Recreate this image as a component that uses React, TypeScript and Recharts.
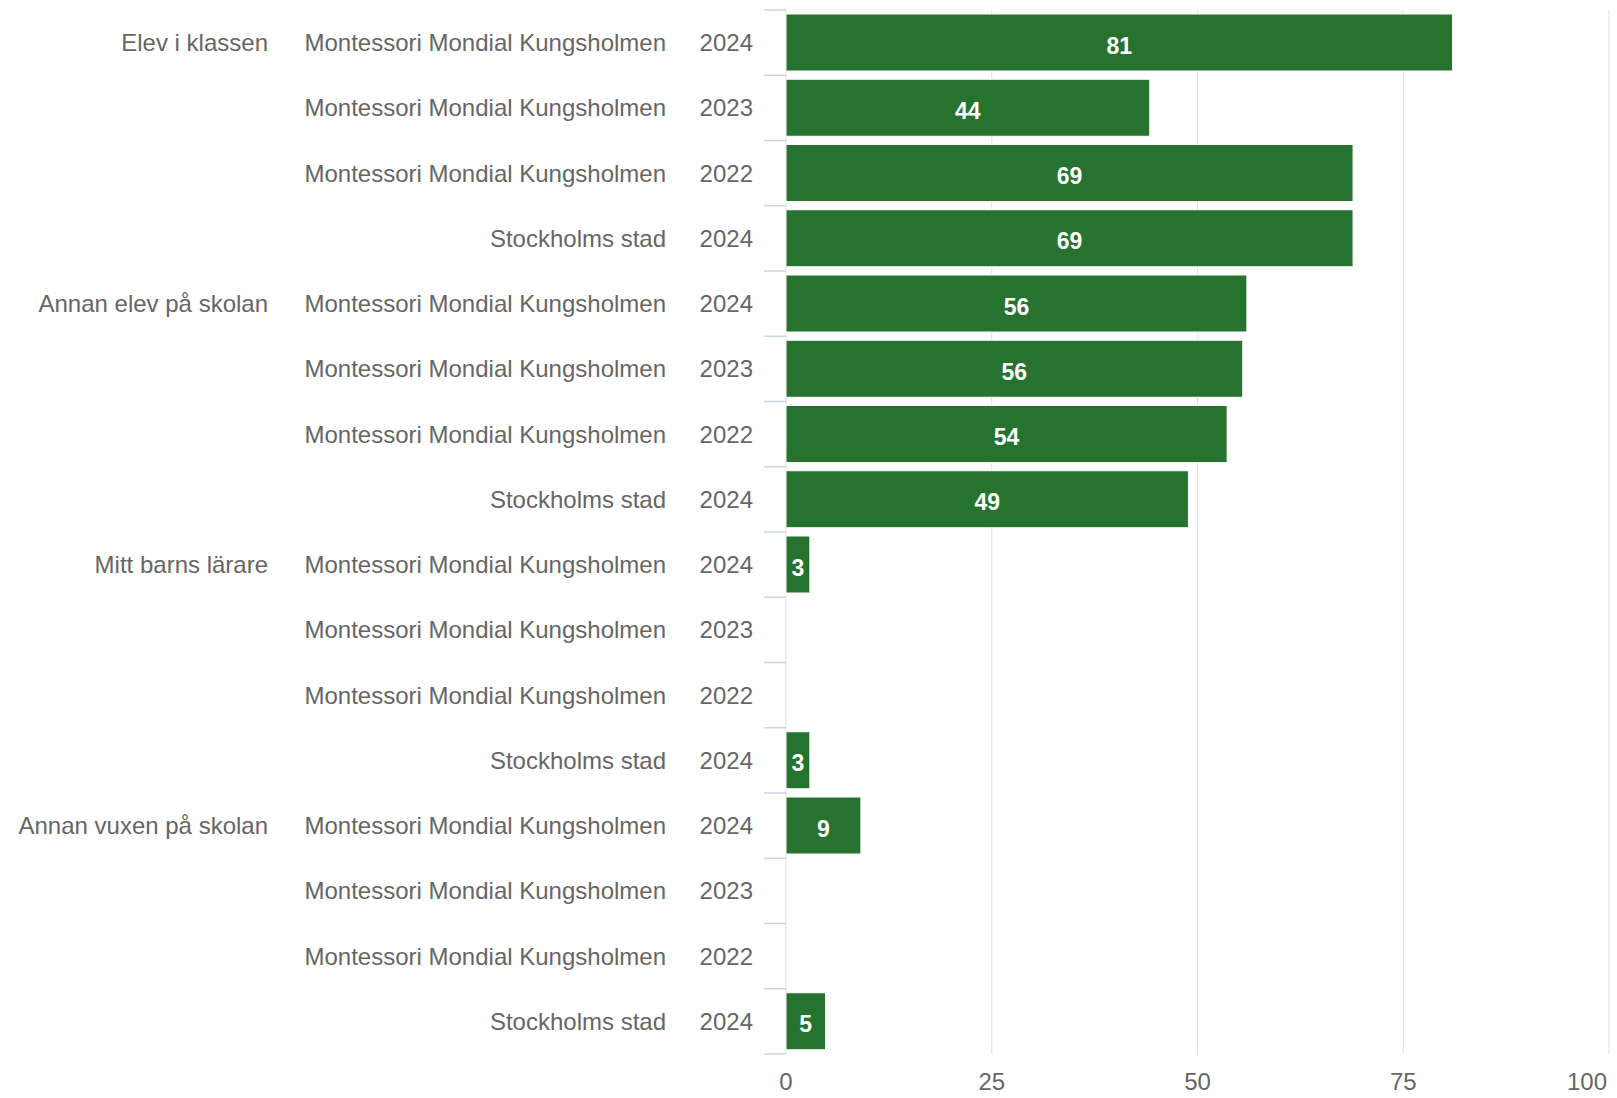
import { BarChart, Bar, XAxis, YAxis, CartesianGrid, LabelList } from 'recharts';

const groups = ['Elev i klassen', 'Annan elev på skolan', 'Mitt barns lärare', 'Annan vuxen på skolan'];
const schools = ['Montessori Mondial Kungsholmen', 'Montessori Mondial Kungsholmen', 'Montessori Mondial Kungsholmen', 'Stockholms stad'];
const years = ['2024', '2023', '2022', '2024'];

const elevIKlassen = [81, 44.2, 68.9, 68.9];
const annanElev = [56, 55.5, 53.6, 48.9];
const mittBarnsLarare = [2.9, 0, 0, 2.9];
const annanVuxen = [9.1, 0, 0, 4.8];

const xTicks = [0, 25, 50, 75, 100];

const groupValues = [elevIKlassen, annanElev, mittBarnsLarare, annanVuxen];

const rows = groups.flatMap((g, gi) =>
  groupValues[gi].map((v, i) => ({
    id: `${gi}-${i}`,
    group: i === 0 ? g : '',
    school: schools[i],
    year: years[i],
    value: v,
  }))
);

const WIDTH = 1617;
const HEIGHT = 1098;
const MARGIN = { top: 10, right: 8, bottom: 0, left: 0 };
const X_AXIS_HEIGHT = 44;
const BAND = (HEIGHT - MARGIN.top - MARGIN.bottom - X_AXIS_HEIGHT) / rows.length;

const FONT = '"Liberation Sans", Arial, Helvetica, sans-serif';
const LABEL_COLOR = '#666666';
const TICK_COLOR = '#ccd6eb';

function CategoryTick(props: any) {
  const { x, y, index } = props;
  const row = rows[index];
  if (!row) return null;
  const tickX1 = x + 11;
  const tickX2 = x + 33;
  return (
    <g>
      <line x1={tickX1} x2={tickX2} y1={y - BAND / 2} y2={y - BAND / 2} stroke={TICK_COLOR} strokeWidth={1.5} />
      {index === rows.length - 1 && (
        <line x1={tickX1} x2={tickX2} y1={y + BAND / 2} y2={y + BAND / 2} stroke={TICK_COLOR} strokeWidth={1.5} />
      )}
      <text x={x} y={y} dy="0.35em" textAnchor="end" fill={LABEL_COLOR} fontSize={24} fontFamily={FONT}>
        {row.year}
      </text>
      <text x={x - 87} y={y} dy="0.35em" textAnchor="end" fill={LABEL_COLOR} fontSize={24} fontFamily={FONT}>
        {row.school}
      </text>
      {row.group && (
        <text x={x - 485} y={y} dy="0.35em" textAnchor="end" fill={LABEL_COLOR} fontSize={24} fontFamily={FONT}>
          {row.group}
        </text>
      )}
    </g>
  );
}

function ValueTick(props: any) {
  const { x, y, payload } = props;
  const last = payload.value === 100;
  return (
    <text
      x={last ? x - 2 : x}
      y={y}
      dy="0.71em"
      textAnchor={last ? 'end' : 'middle'}
      fill={LABEL_COLOR}
      fontSize={24}
      fontFamily={FONT}
    >
      {payload.value}
    </text>
  );
}

export default function App() {
  return (
    <div style={{ position: 'absolute', left: 0, top: 0, background: '#fff' }}>
      <BarChart
        width={WIDTH}
        height={HEIGHT}
        data={rows}
        layout="vertical"
        margin={MARGIN}
        barCategoryGap={4}
      >
        <CartesianGrid vertical horizontal={false} stroke="#e0e0e0" />
        <XAxis
          type="number"
          domain={[0, 100]}
          ticks={xTicks}
          axisLine={false}
          tickLine={false}
          tickSize={0}
          tickMargin={19}
          height={X_AXIS_HEIGHT}
          tick={<ValueTick />}
          interval={0}
        />
        <YAxis
          type="category"
          dataKey="id"
          width={786}
          axisLine={false}
          tickLine={false}
          tickSize={22}
          tickMargin={11}
          interval={0}
          tick={<CategoryTick />}
        />
        <Bar dataKey="value" fill="#26732f" stroke="#ffffff" strokeWidth={1} isAnimationActive={false}>
          <LabelList
            dataKey="value"
            position="center"
            fill="#ffffff"
            fontSize={23}
            fontWeight="bold"
            fontFamily={FONT}
            dy={3}
            formatter={(v: any) => (v > 0 ? Math.round(v) : '')}
          />
        </Bar>
      </BarChart>
    </div>
  );
}
